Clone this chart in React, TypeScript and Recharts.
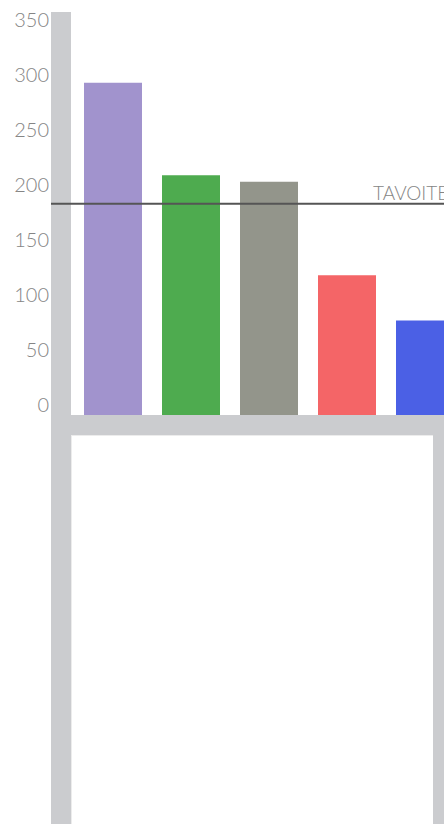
import { Bar, BarChart, Cell, ReferenceLine, XAxis, YAxis } from "recharts"

const categories = ["A", "B", "C", "D", "E"]
const values = [302, 218, 212, 127, 86]
const colors = ["#a193cd", "#4eab4f", "#93958b", "#f46567", "#4b60e5"]
const yTicks = [0, 50, 100, 150, 200, 250, 300, 350]
const target = 192
const targetLabel = "TAVOITE"

const data = categories.map((name, i) => ({ name, value: values[i] }))

const frame = "#cbcccf"

export default function App() {
  return (
    <div
      style={{
        position: "fixed",
        top: 0,
        left: 0,
        width: 444,
        height: 824,
        overflow: "hidden",
        background: "#fff",
      }}
    >
      {/* grey frame behind the chart */}
      <div style={{ position: "absolute", left: 51, top: 12, width: 20, height: 812, background: frame }} />
      <div style={{ position: "absolute", left: 51, top: 415, width: 393, height: 20, background: frame }} />
      <div style={{ position: "absolute", left: 433, top: 435, width: 11, height: 389, background: frame }} />
      <div
        style={{
          position: "absolute",
          left: 71,
          top: 435,
          width: 362,
          height: 389,
          borderLeft: "1px solid #ececec",
          borderTop: "1px solid #ececec",
          boxSizing: "border-box",
        }}
      />
      <div style={{ position: "absolute", left: 0, top: 0 }}>
        <BarChart
          width={470}
          height={440}
          data={data}
          margin={{ top: 12, right: 6, bottom: 25, left: 0 }}
          barCategoryGap={10}
        >
          <XAxis dataKey="name" hide padding={{ left: 23, right: 0 }} />
          <YAxis
            width={51}
            domain={[0, 366.4]}
            ticks={yTicks}
            axisLine={false}
            tickLine={false}
            tickSize={0}
            tickMargin={2}
            tick={{ fill: "#858585", fontSize: 20, fontFamily: "Lato", fontWeight: 300, dy: -10 }}
          />
          <ReferenceLine
            y={target}
            stroke="#555555"
            strokeWidth={2}
            ifOverflow="extendDomain"
            label={({ viewBox }: any) => (
              <text
                x={viewBox.x + 322}
                y={viewBox.y - 4}
                fill="#858585"
                fontSize={19}
                fontFamily="Lato"
                fontWeight={300}
              >
                {targetLabel}
              </text>
            )}
          />
          <Bar dataKey="value" isAnimationActive={false}>
            {data.map((d, i) => (
              <Cell key={d.name} fill={colors[i]} />
            ))}
          </Bar>
        </BarChart>
      </div>
    </div>
  )
}
